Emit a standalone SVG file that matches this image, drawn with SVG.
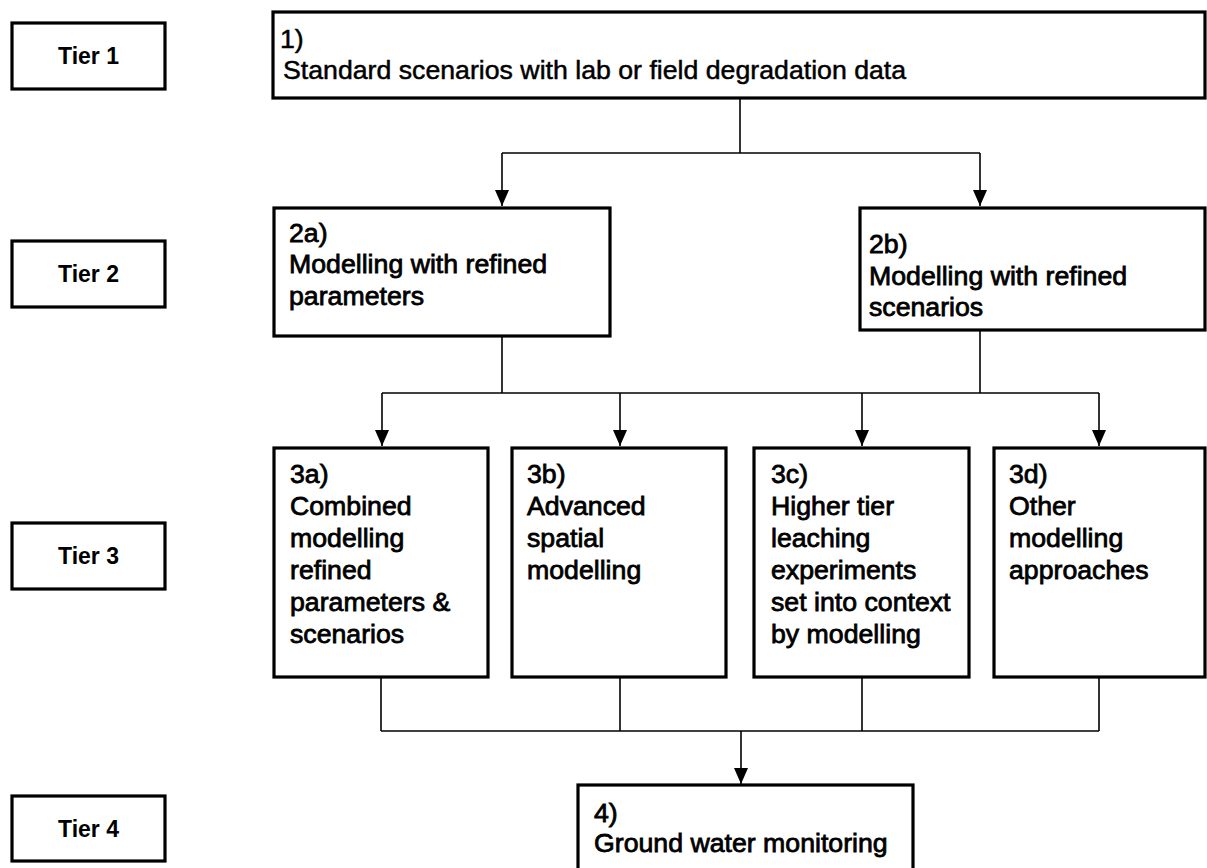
<svg xmlns="http://www.w3.org/2000/svg" width="1207" height="868" viewBox="0 0 1207 868">
<style>
.box{fill:#fff;stroke:#000;stroke-width:3.2}
.tier{font-family:"Liberation Sans",Arial,sans-serif;font-size:23px;font-weight:bold;text-anchor:middle;fill:#000}
.t{font-family:"Liberation Sans",Arial,sans-serif;font-size:26.7px;fill:#000;stroke:#000;stroke-width:0.8}
.t1{font-family:"Liberation Sans",Arial,sans-serif;font-size:26.7px;fill:#000;stroke:#000;stroke-width:0.5}
.c{fill:none;stroke:#000;stroke-width:1.6}
</style>
<defs>
<marker id="arr" markerUnits="userSpaceOnUse" markerWidth="16" markerHeight="14" viewBox="0 0 16 14" refX="16" refY="7" orient="auto">
<path d="M0,0 L16,7 L0,14 Z" fill="#000"/>
</marker>
</defs>
<rect width="1207" height="868" fill="#fff"/>

<g id="tier1"><rect class="box" x="12" y="23" width="153" height="66"/><text class="tier" x="88.5" y="64">Tier 1</text></g>
<g id="tier2"><rect class="box" x="12" y="241" width="153" height="66"/><text class="tier" x="88.5" y="282">Tier 2</text></g>
<g id="tier3"><rect class="box" x="12" y="523" width="153" height="66"/><text class="tier" x="88.5" y="564">Tier 3</text></g>
<g id="tier4"><rect class="box" x="12" y="796" width="153" height="65"/><text class="tier" x="88.5" y="837">Tier 4</text></g>

<g id="connectors">
<path class="c" d="M740,98 V153"/>
<path class="c" d="M502,153 H980"/>
<path class="c" d="M502,153 V206" marker-end="url(#arr)"/>
<path class="c" d="M980,153 V206" marker-end="url(#arr)"/>
<path class="c" d="M502,336 V393"/>
<path class="c" d="M980,328 V393"/>
<path class="c" d="M382,393 H1099"/>
<path class="c" d="M382,393 V446" marker-end="url(#arr)"/>
<path class="c" d="M620,393 V446" marker-end="url(#arr)"/>
<path class="c" d="M862,393 V446" marker-end="url(#arr)"/>
<path class="c" d="M1099,393 V446" marker-end="url(#arr)"/>
<path class="c" d="M381,677 V731"/>
<path class="c" d="M620,677 V731"/>
<path class="c" d="M862,677 V731"/>
<path class="c" d="M1099,677 V731"/>
<path class="c" d="M381,731 H1099"/>
<path class="c" d="M741,731 V784" marker-end="url(#arr)"/>
</g>

<g id="n1"><rect class="box" x="273" y="12" width="932" height="86"/>
<text class="t1" x="280" y="48">1)</text>
<text class="t1" x="283" y="79">Standard scenarios with lab or field degradation data</text></g>

<g id="n2a"><rect class="box" x="274" y="208" width="336" height="128"/>
<text class="t" x="289" y="242">2a)</text>
<text class="t" x="289" y="273">Modelling with refined</text>
<text class="t" x="289" y="305">parameters</text></g>

<g id="n2b"><rect class="box" x="860" y="208" width="345" height="122"/>
<text class="t" x="869" y="253">2b)</text>
<text class="t" x="869" y="285">Modelling with refined</text>
<text class="t" x="869" y="316">scenarios</text></g>

<g id="n3a"><rect class="box" x="274" y="448" width="214" height="229"/>
<text class="t" x="290" y="483">3a)</text>
<text class="t" x="290" y="515">Combined</text>
<text class="t" x="290" y="547">modelling</text>
<text class="t" x="290" y="579">refined</text>
<text class="t" x="290" y="611">parameters &amp;</text>
<text class="t" x="290" y="643">scenarios</text></g>

<g id="n3b"><rect class="box" x="512" y="448" width="214" height="229"/>
<text class="t" x="527" y="483">3b)</text>
<text class="t" x="527" y="515">Advanced</text>
<text class="t" x="527" y="547">spatial</text>
<text class="t" x="527" y="579">modelling</text></g>

<g id="n3c"><rect class="box" x="754" y="448" width="215" height="229"/>
<text class="t" x="771" y="483">3c)</text>
<text class="t" x="771" y="515">Higher tier</text>
<text class="t" x="771" y="547">leaching</text>
<text class="t" x="771" y="579">experiments</text>
<text class="t" x="771" y="611">set into context</text>
<text class="t" x="771" y="643">by modelling</text></g>

<g id="n3d"><rect class="box" x="994" y="448" width="211" height="229"/>
<text class="t" x="1009" y="483">3d)</text>
<text class="t" x="1009" y="515">Other</text>
<text class="t" x="1009" y="547">modelling</text>
<text class="t" x="1009" y="579">approaches</text></g>

<g id="n4"><rect class="box" x="578" y="785" width="335" height="100"/>
<text class="t" x="594" y="822">4)</text>
<text class="t" x="594" y="852">Ground water monitoring</text></g>
</svg>
